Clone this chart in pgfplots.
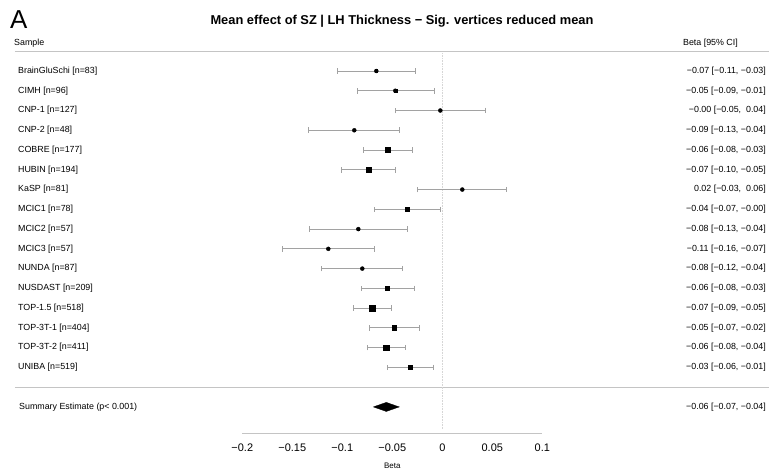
\documentclass[border=0pt]{standalone}
\usepackage{pgfplots}
\pgfplotsset{compat=1.18}
\usepackage{pgfplotstable}
\usepackage{fontspec}
\setmainfont{Liberation Sans}

\definecolor{barg}{HTML}{A2A2A2}
\definecolor{ruleg}{HTML}{C4C4C4}
\newcommand\lab{\fontsize{8.9}{10}\selectfont}

% row, estimate, 95% CI, half side of the weight square (bp)
\pgfplotstableread{
row est lo hi ms
1 -0.066 -0.105 -0.027 1.3
2 -0.047 -0.085 -0.008 1.5
3 -0.002 -0.047 0.043 0.85
4 -0.088 -0.134 -0.043 0.95
5 -0.055 -0.079 -0.030 2.5
6 -0.074 -0.101 -0.047 2.5
7 0.020 -0.025 0.064 0.85
8 -0.035 -0.068 -0.002 2.0
9 -0.084 -0.133 -0.035 0.75
10 -0.114 -0.160 -0.068 0.85
11 -0.080 -0.121 -0.040 1.05
12 -0.055 -0.081 -0.028 2.0
13 -0.070 -0.089 -0.051 2.9
14 -0.048 -0.073 -0.023 2.3
15 -0.056 -0.075 -0.037 2.8
16 -0.032 -0.055 -0.009 2.3
}\forest

\begin{document}
\begin{tikzpicture}
\begin{axis}[
  x=1000bp, y=-19.76bp,
  xmin=-0.2, xmax=0.1, ymin=-2.59, ymax=19.32,
  axis x line*=bottom, axis y line=none,
  clip=false,
  xtick={-0.2,-0.15,-0.1,-0.05,0,0.05,0.1},
  xticklabels={−0.2,−0.15,−0.1,−0.05,0,0.05,0.1},
  xticklabel style={font=\fontsize{11}{13}\selectfont, yshift=-7bp},
  xtick align=inside,
  major tick length=5bp,
  axis line style={ruleg, line width=0.9bp},
  tick style={ruleg, line width=0.9bp},
  xlabel={Beta},
  xlabel style={font=\fontsize{8}{9}\selectfont, yshift=-5bp},
]
% frame of the whole figure
\coordinate (bbA) at (axis cs:-0.4423,-2.593);
\coordinate (bbB) at (axis cs:0.3267,21.39);

\draw[ruleg, line width=1.3bp] (axis cs:-0.4273,0) -- (axis cs:0.3267,0);
\draw[ruleg, line width=1.3bp] (axis cs:-0.4273,17) -- (axis cs:0.3267,17);
\draw[ruleg!70, densely dotted, line width=0.6bp] (axis cs:0,0.1) -- (axis cs:0,19.1);

% confidence intervals
\addplot[only marks, mark=none,
  error bars/.cd, x dir=both, x explicit,
  error mark=|, error mark options={barg, mark size=2.8bp, line width=0.6bp},
  error bar style={barg, line width=0.9bp}]
  table[x=est, y=row, x error plus expr=\thisrow{hi}-\thisrow{est},
        x error minus expr=\thisrow{est}-\thisrow{lo}] {\forest};

% weight squares
\addplot[scatter, only marks, mark=square*,
  scatter/use mapped color={draw=none, fill=black},
  visualization depends on={\thisrow{ms} \as \msz},
  scatter/@pre marker code/.append style={/tikz/mark size=\msz bp}]
  table[x=est, y=row] {\forest};

% summary diamond
\addplot[fill=black, draw=black, line width=0.3bp]
  coordinates {(-0.069,18) (-0.056,17.77) (-0.043,18) (-0.056,18.23)} -- cycle;

\node[anchor=west, font=\fontsize{26}{28}\selectfont, inner sep=0] at (axis cs:-0.4323,-1.6) {A};
\node[font=\bfseries\fontsize{12.9}{14}\selectfont, inner sep=0] at (axis cs:-0.0403,-1.5) {Mean effect of SZ | LH Thickness − Sig. vertices reduced mean};
\node[anchor=west, font=\lab, inner sep=0] at (axis cs:-0.4283,-0.417) {Sample};
\node[anchor=east, font=\lab, inner sep=0] at (axis cs:0.2957,-0.417) {Beta [95\% CI]};

\node[anchor=west, font=\lab, inner sep=0] at (axis cs:-0.4243,1) {BrainGluSchi [n=83]};
\node[anchor=west, font=\lab, inner sep=0] at (axis cs:-0.4243,2) {CIMH [n=96]};
\node[anchor=west, font=\lab, inner sep=0] at (axis cs:-0.4243,3) {CNP-1 [n=127]};
\node[anchor=west, font=\lab, inner sep=0] at (axis cs:-0.4243,4) {CNP-2 [n=48]};
\node[anchor=west, font=\lab, inner sep=0] at (axis cs:-0.4243,5) {COBRE [n=177]};
\node[anchor=west, font=\lab, inner sep=0] at (axis cs:-0.4243,6) {HUBIN [n=194]};
\node[anchor=west, font=\lab, inner sep=0] at (axis cs:-0.4243,7) {KaSP [n=81]};
\node[anchor=west, font=\lab, inner sep=0] at (axis cs:-0.4243,8) {MCIC1 [n=78]};
\node[anchor=west, font=\lab, inner sep=0] at (axis cs:-0.4243,9) {MCIC2 [n=57]};
\node[anchor=west, font=\lab, inner sep=0] at (axis cs:-0.4243,10) {MCIC3 [n=57]};
\node[anchor=west, font=\lab, inner sep=0] at (axis cs:-0.4243,11) {NUNDA [n=87]};
\node[anchor=west, font=\lab, inner sep=0] at (axis cs:-0.4243,12) {NUSDAST [n=209]};
\node[anchor=west, font=\lab, inner sep=0] at (axis cs:-0.4243,13) {TOP-1.5 [n=518]};
\node[anchor=west, font=\lab, inner sep=0] at (axis cs:-0.4243,14) {TOP-3T-1 [n=404]};
\node[anchor=west, font=\lab, inner sep=0] at (axis cs:-0.4243,15) {TOP-3T-2 [n=411]};
\node[anchor=west, font=\lab, inner sep=0] at (axis cs:-0.4243,16) {UNIBA [n=519]};
\node[anchor=west, font=\lab, inner sep=0] at (axis cs:-0.4233,18) {Summary Estimate (p< 0.001)};

\node[anchor=east, font=\lab, inner sep=0] at (axis cs:0.3237,1) {−0.07 [−0.11, −0.03]};
\node[anchor=east, font=\lab, inner sep=0] at (axis cs:0.3237,2) {−0.05 [−0.09, −0.01]};
\node[anchor=east, font=\lab, inner sep=0] at (axis cs:0.3237,3) {−0.00 [−0.05,\ \ 0.04]};
\node[anchor=east, font=\lab, inner sep=0] at (axis cs:0.3237,4) {−0.09 [−0.13, −0.04]};
\node[anchor=east, font=\lab, inner sep=0] at (axis cs:0.3237,5) {−0.06 [−0.08, −0.03]};
\node[anchor=east, font=\lab, inner sep=0] at (axis cs:0.3237,6) {−0.07 [−0.10, −0.05]};
\node[anchor=east, font=\lab, inner sep=0] at (axis cs:0.3237,7) {0.02 [−0.03,\ \ 0.06]};
\node[anchor=east, font=\lab, inner sep=0] at (axis cs:0.3237,8) {−0.04 [−0.07, −0.00]};
\node[anchor=east, font=\lab, inner sep=0] at (axis cs:0.3237,9) {−0.08 [−0.13, −0.04]};
\node[anchor=east, font=\lab, inner sep=0] at (axis cs:0.3237,10) {−0.11 [−0.16, −0.07]};
\node[anchor=east, font=\lab, inner sep=0] at (axis cs:0.3237,11) {−0.08 [−0.12, −0.04]};
\node[anchor=east, font=\lab, inner sep=0] at (axis cs:0.3237,12) {−0.06 [−0.08, −0.03]};
\node[anchor=east, font=\lab, inner sep=0] at (axis cs:0.3237,13) {−0.07 [−0.09, −0.05]};
\node[anchor=east, font=\lab, inner sep=0] at (axis cs:0.3237,14) {−0.05 [−0.07, −0.02]};
\node[anchor=east, font=\lab, inner sep=0] at (axis cs:0.3237,15) {−0.06 [−0.08, −0.04]};
\node[anchor=east, font=\lab, inner sep=0] at (axis cs:0.3237,16) {−0.03 [−0.06, −0.01]};
\node[anchor=east, font=\lab, inner sep=0] at (axis cs:0.3237,18) {−0.06 [−0.07, −0.04]};
\end{axis}
\pgfresetboundingbox
\path[use as bounding box] (bbA) rectangle (bbB);
\end{tikzpicture}
\end{document}
